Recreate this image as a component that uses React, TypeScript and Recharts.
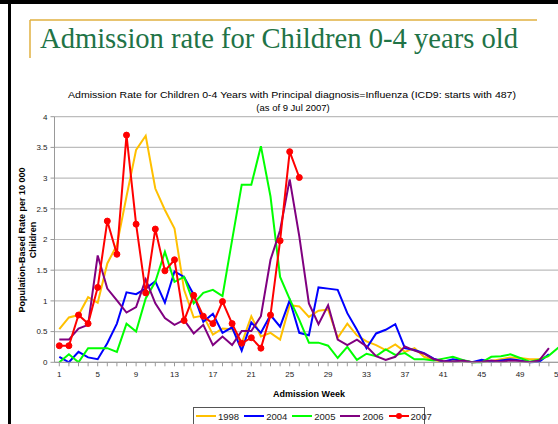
import { LineChart, Line, XAxis, YAxis, CartesianGrid } from 'recharts';

// admission week categories and the labelled subset
const weeks = [
  1, 2, 3, 4, 5, 6, 7, 8, 9, 10, 11, 12, 13, 14, 15, 16, 17, 18, 19, 20, 21, 22, 23, 24, 25, 26,
  27, 28, 29, 30, 31, 32, 33, 34, 35, 36, 37, 38, 39, 40, 41, 42, 43, 44, 45, 46, 47, 48, 49, 50,
  51, 52, 53,
];
const weekLabels = [1, 5, 9, 13, 17, 21, 25, 29, 33, 37, 41, 45, 49, 53];
const rateTicks = [0, 0.5, 1, 1.5, 2, 2.5, 3, 3.5, 4];

// rate per 10 000 children, by week
const rate1998 = [
  0.54, 0.73, 0.77, 1.06, 0.97, 1.61, 1.91, 2.7, 3.46, 3.69, 2.83, 2.48, 2.18, 1.18, 0.73, 0.76,
  0.45, 0.55, 0.54, 0.31, 0.75, 0.42, 0.48, 0.37, 0.93, 0.91, 0.74, 0.84, 0.86, 0.4, 0.63, 0.44,
  0.34, 0.28, 0.2, 0.29, 0.17, 0.23, 0.09, 0.04, 0.0, 0.03, 0.02, 0.0, 0.01, 0.02, 0.05, 0.08,
  0.07, 0.05, 0.05, 0.1,
];
const rate2004 = [
  0.09, 0.0, 0.17, 0.08, 0.05, 0.31, 0.63, 1.14, 1.11, 1.2, 1.32, 0.97, 1.48, 1.39, 1.1, 0.66,
  0.79, 0.48, 0.57, 0.19, 0.65, 0.48, 0.77, 0.58, 1.01, 0.48, 0.44, 1.22, 1.2, 1.18, 0.8, 0.53,
  0.23, 0.47, 0.53, 0.62, 0.23, 0.2, 0.15, 0.06, 0.01, 0.05, 0.03, 0.0, 0.04, 0.01, 0.03, 0.05,
  0.03, 0.0, 0.01, 0.13,
];
const rate2005 = [
  0.0, 0.13, 0.0, 0.23, 0.23, 0.23, 0.17, 0.63, 0.5, 1.04, 1.31, 1.8, 1.31, 1.39, 0.96, 1.13,
  1.18, 1.08, 1.99, 2.89, 2.89, 3.52, 2.7, 1.39, 1.03, 0.69, 0.32, 0.32, 0.27, 0.07, 0.25, 0.04,
  0.14, 0.1, 0.21, 0.12, 0.15, 0.05, 0.05, 0.03, 0.06, 0.09, 0.04, 0.0, 0.0, 0.09, 0.1, 0.13,
  0.07, 0.01, 0.04, 0.11, 0.24,
];
const rate2006 = [
  0.37, 0.37, 0.55, 0.61, 1.74, 1.2, 1.01, 0.81, 0.9, 1.35, 0.96, 0.72, 0.61, 0.69, 0.47, 0.61,
  0.28, 0.42, 0.28, 0.51, 0.51, 0.75, 1.67, 2.15, 2.98, 2.05, 0.96, 0.62, 0.93, 0.37, 0.28, 0.37,
  0.26, 0.1, 0.04, 0.09, 0.26, 0.19, 0.14, 0.05, 0.02, 0.01, 0.03, 0.0, 0.01, 0.03, 0.01, 0.03,
  0.02, 0.0, 0.03, 0.23,
];
const rate2007 = [
  0.27, 0.27, 0.77, 0.63, 1.22, 2.3, 1.76, 3.7, 2.25, 1.13, 2.17, 1.49, 1.67, 0.68, 1.09, 0.75,
  0.63, 0.99, 0.63, 0.31, 0.4, 0.23, 0.77, 1.98, 3.43, 3.01,
];

const SERIES = [
  { key: 'y1998', name: '1998', color: '#FFC000', values: rate1998, dots: false },
  { key: 'y2004', name: '2004', color: '#0000FF', values: rate2004, dots: false },
  { key: 'y2005', name: '2005', color: '#00FF00', values: rate2005, dots: false },
  { key: 'y2006', name: '2006', color: '#800080', values: rate2006, dots: false },
  { key: 'y2007', name: '2007', color: '#FF0000', values: rate2007, dots: true },
];

const SANS = "'Liberation Sans', Arial, sans-serif";
const SERIF = "'Liberation Serif', 'DejaVu Serif', serif";

const chartData = weeks.map((week, i) => {
  const row: Record<string, number | undefined> = { week };
  for (const s of SERIES) row[s.key] = s.values[i];
  return row;
});

function WeekTick({ x, y, payload }: any) {
  if (!weekLabels.includes(payload.value)) return <g />;
  return (
    <text x={x} y={y} dy={9} textAnchor="middle" fontSize={8} fill="#222" fontFamily={SANS}>
      {payload.value}
    </text>
  );
}

function ChartLegend() {
  return (
    <div
      style={{
        position: 'absolute',
        left: 193,
        top: 407,
        width: 232,
        height: 24,
        border: '1px solid #555',
        background: '#fff',
        display: 'flex',
        alignItems: 'center',
        paddingLeft: 2,
        boxSizing: 'border-box',
        fontFamily: SANS,
        fontSize: 9.5,
        color: '#222',
      }}
    >
      {SERIES.map((s) => (
        <div key={s.key} style={{ display: 'flex', alignItems: 'center', marginRight: 5, marginTop: -6 }}>
          <svg width={20} height={8} style={{ marginRight: 2 }}>
            <line x1={0} x2={20} y1={4} y2={4} stroke={s.color} strokeWidth={2} />
            {s.dots && <circle cx={10} cy={4} r={3} fill={s.color} />}
          </svg>
          <span>{s.name}</span>
        </div>
      ))}
    </div>
  );
}

export default function App() {
  return (
    <div
      style={{
        position: 'absolute',
        left: 0,
        top: 0,
        width: 558,
        height: 424,
        overflow: 'hidden',
        background: '#fff',
      }}
    >
      <div style={{ position: 'absolute', left: 0, top: 0 }}>
        <LineChart
          width={570}
          height={424}
          data={chartData}
          margin={{ top: 116.7, right: 6.7, bottom: 0, left: 0 }}
        >
          <CartesianGrid vertical={false} stroke="#bdbdbd" strokeWidth={1.2} />
          <XAxis
            dataKey="week"
            type="category"
            interval={0}
            height={61.7}
            padding={{ left: 4.8, right: 4.8 }}
            stroke="#999"
            tickSize={4}
            tick={<WeekTick />}
          />
          <YAxis
            domain={[0, 4]}
            ticks={rateTicks}
            width={54.5}
            stroke="#999"
            tickSize={4}
            tickMargin={3}
            tick={{ fontSize: 8, fill: '#222', fontFamily: SANS }}
            interval={0}
          />
          {SERIES.map((s) => (
            <Line
              key={s.key}
              dataKey={s.key}
              name={s.name}
              type="linear"
              stroke={s.color}
              strokeWidth={2}
              dot={s.dots ? { r: 3, fill: s.color, stroke: s.color, strokeWidth: 1 } : false}
              activeDot={false}
              isAnimationActive={false}
            />
          ))}
        </LineChart>
      </div>

      <svg
        width={558}
        height={424}
        style={{ position: 'absolute', left: 0, top: 0, pointerEvents: 'none' }}
      >
        <rect x={0} y={0} width={558} height={4} fill="#000" />
        <rect x={8} y={0} width={3} height={424} fill="#000" />
        <line x1={30} x2={537} y1={20} y2={20} stroke="#E0B040" strokeWidth={1.5} />
        <line x1={30} x2={30} y1={20} y2={58} stroke="#E0B040" strokeWidth={1.5} />
        <text
          x={40}
          y={48}
          fontFamily={SERIF}
          fontSize={30}
          fill="#217346"
          textLength={478}
          lengthAdjust="spacingAndGlyphs"
        >
          Admission rate for Children 0-4 years old
        </text>
        <text
          x={292}
          y={98}
          textAnchor="middle"
          fontFamily={SANS}
          fontSize={9.5}
          fill="#000"
          textLength={448}
          lengthAdjust="spacingAndGlyphs"
        >
          Admission Rate for Children 0-4 Years with Principal diagnosis=Influenza (ICD9: starts with 487)
        </text>
        <text x={293} y={111} textAnchor="middle" fontFamily={SANS} fontSize={9.5} fill="#000">
          (as of 9 Jul 2007)
        </text>
        <g transform="translate(25, 240) rotate(-90)">
          <text x={0} y={0} textAnchor="middle" fontFamily={SANS} fontSize={9} fontWeight="bold" fill="#000">
            Population-Based Rate per 10 000
          </text>
          <text x={0} y={11} textAnchor="middle" fontFamily={SANS} fontSize={9} fontWeight="bold" fill="#000">
            Children
          </text>
        </g>
        <text
          x={309}
          y={397}
          textAnchor="middle"
          fontFamily={SANS}
          fontSize={9}
          fontWeight="bold"
          fill="#000"
        >
          Admission Week
        </text>
      </svg>

      <ChartLegend />
    </div>
  );
}
